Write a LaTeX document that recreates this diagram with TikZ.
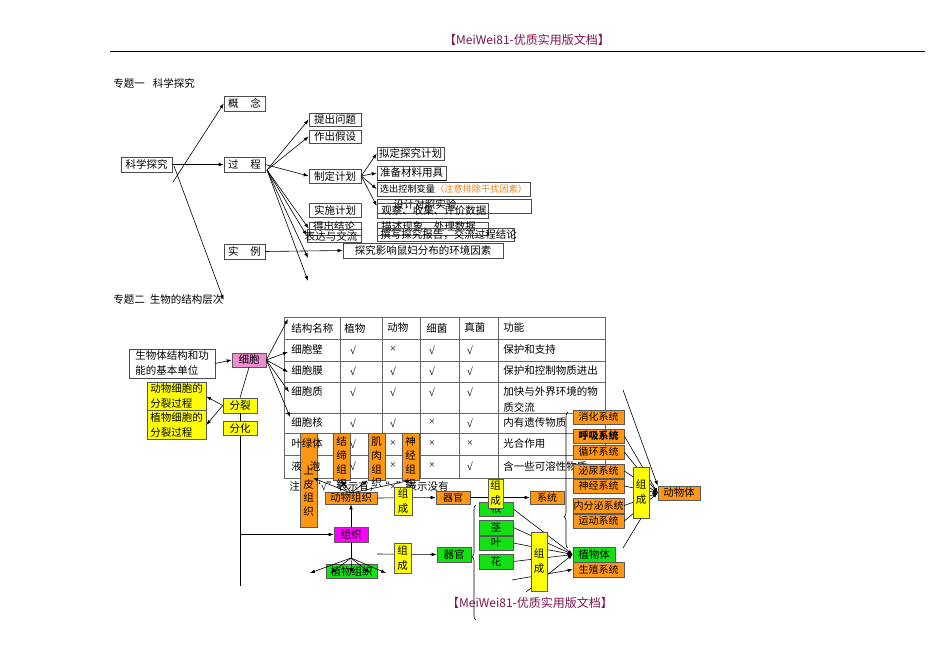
\documentclass[tikz,border=0pt]{standalone}
\usepackage{fontspec}
\setmainfont{Noto Sans CJK SC}
\newfontfamily\marksfont{Liberation Serif}
\usepackage{tikz}
\usetikzlibrary{positioning,arrows.meta,decorations.pathreplacing}

\definecolor{hdrpurple}{RGB}{128,20,80}
\definecolor{boxorange}{RGB}{255,150,20}
\definecolor{boxgreen}{RGB}{20,225,20}
\definecolor{boxyellow}{RGB}{255,255,0}
\definecolor{boxpink}{RGB}{240,140,210}
\definecolor{boxmagenta}{RGB}{255,0,255}
\definecolor{noteorange}{RGB}{235,130,30}

\newcommand{\yes}{{\marksfont\fontsize{11}{12}\selectfont √}}
\newcommand{\no}{{\marksfont\fontsize{11}{12}\selectfont ×}}

\begin{document}
\begin{tikzpicture}[x=1pt, y=-1pt, line width=0.6pt,
                >={Latex[length=5pt,width=3.6pt]},
                every node/.style={font=\fontsize{10.5}{12}\selectfont, inner sep=0pt},
                plainbox/.style={draw=black!70, fill=white, minimum height=14pt},
                openbox/.style={draw=black!70, minimum height=14pt},
                orangebox/.style={draw=black!65, fill=boxorange, minimum height=14pt, font=\fontsize{10}{12}\selectfont},
                greenbox/.style={draw=black!65, fill=boxgreen, minimum height=14pt},
                yellowbox/.style={draw=black!65, fill=boxyellow, align=center, font=\fontsize{10.5}{15}\selectfont},
                tissuebox/.style={draw=black!65, fill=boxorange, minimum width=17pt},
                vtext/.style={align=center, font=\fontsize{10.5}{13.7}\selectfont},
            ]
            \fill[white] (0,0) rectangle (950,671);
            \useasboundingbox (0,0) rectangle (950,671);

            % page header
            \node[font=\fontsize{12}{14}\selectfont, text=hdrpurple] (hdr) at (527,40) {【MeiWei81-优质实用版文档】};
            \draw[line width=0.9pt] (110,51) -- (925,51);

            % ---- topic one
            \node[anchor=west] (topic1) at (113,83) {专题一\hspace{8pt}科学探究};
            \node[plainbox, minimum width=51pt, minimum height=15pt] (kxtj) at (146.5,164.5) {科学探究};
            \node[plainbox, minimum width=41pt, minimum height=15pt] (gn)   at (244.5,103.5) {概\hspace{12pt}念};
            \node[plainbox, minimum width=41pt, minimum height=15pt] (gc)   at (244.5,164.5) {过\hspace{12pt}程};
            \node[plainbox, minimum width=41pt, minimum height=15pt] (sl)   at (244.5,251.5) {实\hspace{12pt}例};

            \node[plainbox, minimum width=52pt, minimum height=13pt] (tcwt) at (335,119.5) {提出问题};
            \node[plainbox, minimum width=52pt, minimum height=13pt] (zcjs) at (335,136.5) {作出假设};
            \node[plainbox, minimum width=52pt] (zdjh) at (335,176) {制定计划};
            \node[plainbox, minimum width=52pt] (ssjh) at (335,210) {实施计划};
            \node[openbox, minimum width=52pt, minimum height=13pt] (dcjl) at (335,228.5) {};
            \node (dcjlt) at (334,227) {得出结论};
            \node[openbox, minimum width=54pt, minimum height=13pt] (bdjl) at (334,235.5) {};
            \node (bdjlt) at (331,236) {表达与交流};

            \node[plainbox, minimum width=67pt, minimum height=13pt] (njtjh) at (410.5,153.5) {拟定探究计划};
            \node[plainbox, minimum width=69pt] (zbcl) at (411.5,173) {准备材料用具};
            \draw[line width=1.3pt] (zbcl.south west) -- (zbcl.south east);
            \node[plainbox, minimum width=153pt, font=\fontsize{9.2}{11}\selectfont] (xckz) at (453.5,189) {选出控制变量\textcolor{noteorange}{（注意排除干扰因素）}};
            \node[openbox, minimum width=154pt] (sjdz) at (454,206) {};
            \node[anchor=west] (sjdzt) at (393,204) {设计对照实验};
            \node[openbox, minimum width=111pt, minimum height=15pt] (gcsj) at (432.5,210.5) {};
            \node[anchor=west] (gcsjt) at (381,211) {观察、收集、评价数据};
            \node[openbox, minimum width=111pt, minimum height=13pt] (mszx) at (432.5,228.5) {};
            \node[anchor=west] (mszxt) at (381,227) {描述现象、处理数据};
            \node[openbox, minimum width=137pt, minimum height=13pt] (zxbg) at (445.5,234.5) {};
            \node[anchor=west] (zxbgt) at (380,235) {撰写探究报告，交流过程结论};
            \node[plainbox, minimum width=160pt, minimum height=15pt] (tjsf) at (423,250.5) {探究影响鼠妇分布的环境因素};

            \node[anchor=west] (topic2) at (113,300) {专题二\hspace{5pt}生物的结构层次};

            \coordinate (kxA) at (173,182);
            \coordinate (kxB) at (174,166);
            \draw[->] (kxA) -- (gn.west);
            \draw[->] (kxtj.east) -- (gc.west);
            \draw[->] (kxB) -- (topic2.east);

            \coordinate (gcA) at (267,170);
            \coordinate (gcB) at (308,258);
            \coordinate (gcC) at (308,281);
            \draw[->] (gcA) -- (tcwt.west);
            \draw[->] (gcA) -- (zcjs.west);
            \draw[->] (gc.east) -- (zdjh.west);
            \draw[->] (gcA) -- (dcjl.west);
            \draw[->] (gcA) -- (bdjl.west);
            \draw[->] (gcA) -- (gcB);
            \draw[->] (gcA) -- (gcC);
            \draw[->] (sl.east) -- (tjsf.west);

            \draw[->] (zdjh.east) -- (njtjh.west);
            \draw[->] (zdjh.east) -- (zbcl.west);
            \draw[->] (zdjh.east) -- (xckz.west);
            \draw[->] (zdjh.east) -- (sjdz.west);

            % ---- topic two: cell table
            \node[plainbox, minimum width=86pt, minimum height=29pt, align=left, font=\fontsize{10.5}{15}\selectfont] (jbdw) at (172,363.5) {生物体结构和功\\能的基本单位};
            \node[draw=black!65, fill=boxpink, minimum width=34pt, minimum height=14pt] (xb) at (249,360) {细胞};
            \draw[->] (jbdw.east) -- (xb.west);

            \draw[black!60] (284,317) rectangle (605,478);
            \foreach \ry in {339,361,382,413,433,455}
                \draw[black!60] (284,\ry) -- (605,\ry);
            \foreach \cx in {340,382,420,459,498}
                \draw[black!60] (\cx,317) -- (\cx,478);

            \node[anchor=west] (zhu) at (289,487) {注：“\yes”表示有，“\no”表示没有};

            % tissues laid over the table
            \node[tissuebox, minimum height=94pt] (spzz) at (308.5,480) {};
            \node[vtext] (spzzt) at (308.5,491) {上\\皮\\组\\织};
            \node[tissuebox, minimum height=47pt] (jdzz) at (341.5,456.5) {};
            \node[vtext] (jdzzt) at (341.5,462.5) {结\\缔\\组\\织};
            \node[tissuebox, minimum height=47pt] (jrzz) at (376.5,456.5) {};
            \node[vtext] (jrzzt) at (376.5,462.5) {肌\\肉\\组\\织};
            \node[tissuebox, minimum height=47pt] (sjzz) at (410.5,456.5) {};
            \node[vtext] (sjzzt) at (410.5,462.5) {神\\经\\组\\织};

            \node[anchor=west] (h0) at (291,328) {结构名称};
            \node[anchor=west] (h1) at (344,328) {植物};
            \node[anchor=west] (h2) at (387,328) {动物};
            \node[anchor=west] (h3) at (426,328) {细菌};
            \node[anchor=west] (h4) at (464,328) {真菌};
            \node[anchor=west] (h5) at (503,328) {功能};
            \foreach \ry/\cname/\cp/\ca/\cb/\cf/\cfn in {
                350/细胞壁/\yes/\no/\yes/\yes/保护和支持,
                371/细胞膜/\yes/\yes/\yes/\yes/保护和控制物质进出,
                392/细胞质/\yes/\yes/\yes/\yes/加快与外界环境的物,
                423/细胞核/\yes/\yes/\no/\yes/内有遗传物质,
                444/叶绿体/\yes/\no/\no/\no/光合作用,
                466/液\hspace{8pt}泡/\yes/\no/\no/\yes/含一些可溶性物质}{
                \node[anchor=west] (nm\ry) at (291,\ry) {\cname};
                \node (pl\ry) at (353,\ry) {\cp};
                \node (an\ry) at (393,\ry) {\ca};
                \node (ba\ry) at (432,\ry) {\cb};
                \node (fu\ry) at (470,\ry) {\cf};
                \node[anchor=west] (fn\ry) at (503,\ry) {\cfn};
            }
            \node[anchor=west] (fn407) at (503,407) {质交流};

            \coordinate (row0) at (288,319);
            \coordinate (row1) at (288,352);
            \coordinate (row2) at (288,372);
            \coordinate (row3) at (289,392);
            \coordinate (row4) at (290,417);
            \foreach \r in {row0,row1,row2,row3,row4}
                \draw[->] (xb.east) -- (\r);

            % division and differentiation
            \node[draw=black!65, fill=boxyellow, minimum width=59pt, minimum height=28pt, align=left, font=\fontsize{10.5}{15}\selectfont] (dwfl) at (176.5,396.5) {动物细胞的\\分裂过程};
            \node[draw=black!65, fill=boxyellow, minimum width=59pt, minimum height=29pt, align=left, font=\fontsize{10.5}{15}\selectfont] (zwfl) at (176.5,425) {植物细胞的\\分裂过程};
            \node[draw=black!65, fill=boxyellow, minimum width=34pt, minimum height=15pt] (fl) at (240,405.5) {分裂};
            \node[draw=black!65, fill=boxyellow, minimum width=34pt, minimum height=14pt] (fh) at (240,428.5) {分化};
            \draw[->] (fl.west) -- (dwfl.east);
            \draw[->] (fl.west) -- (zwfl.east);

            \coordinate (xbLow) at (240,586);
            \coordinate (xbMid) at (240,534.5);
            \draw (xb.south) -- (fl.north);
            \draw (fl.south) -- (fh.north);
            \draw (fh.south) -- (xbLow);

            % tissues, organs, systems
            \node[draw=black!65, fill=boxorange, minimum width=52pt, minimum height=12pt] (dwzz) at (351,498) {动物组织};
            \node[draw=black!65, fill=boxmagenta, minimum width=34pt, minimum height=15pt] (zz) at (351,534.5) {组织};
            \draw[->] (xbMid) -- (zz.west);
            \draw[->] (zz.north) -- (dwzz.south);
            \coordinate (dwA) at (351,493);
            \coordinate (spTip) at (313,478);
            \draw[->] (dwA) -- (spTip);
            \draw[->] (dwA) -- (jdzz.south);
            \draw[->] (dwA) -- (jrzz.south west);
            \draw[->] (dwA) -- (sjzz.south);

            \node[greenbox, minimum width=51pt] (zwzz) at (351.5,571) {植物组织};
            \coordinate (zzB) at (351,558);
            \draw (zz.south) -- (zzB);
            \foreach \tx [count=\i] in {310,331,352,370,386}{
                \coordinate (zwtip\i) at (\tx,573);
                \draw[->] (zzB) -- (zwtip\i);
            }

            \node[orangebox, minimum width=34pt, minimum height=13pt] (qg1) at (453,497.5) {器官};
            \draw[->] (dwzz.east) -- (qg1.west);
            \node[yellowbox, minimum width=18pt, minimum height=28pt] (zc1) at (403,501) {组\\成};
            \node[greenbox, minimum width=34pt, minimum height=15pt] (qg2) at (454,554.5) {器官};
            \coordinate (zcS) at (377,554);
            \draw[->] (zcS) -- (qg2.west);
            \node[yellowbox, minimum width=17pt, minimum height=30pt] (zc2) at (402.5,558) {组\\成};

            \node[orangebox, minimum width=34pt, minimum height=13pt] (xt) at (547,497.5) {系统};
            \draw[->] (qg1.east) -- (xt.west);

            \node[greenbox, minimum width=34pt] (gen)  at (496,509) {根};
            \node[greenbox, minimum width=34pt, minimum height=15pt] (jing) at (496,527.5) {茎};
            \node[greenbox, minimum width=34pt] (ye)   at (496,543) {叶};
            \node[greenbox, minimum width=34pt, minimum height=15pt] (hua)  at (496,561.5) {花};
            \node[yellowbox, minimum width=15pt, minimum height=29pt] (zc3) at (495.5,493.5) {组\\成};
            \coordinate (brA) at (476,620);
            \coordinate (brB) at (476,505);
            \draw[decorate, decoration={brace, amplitude=4pt, aspect=0.55}] (brA) -- (brB);

            \node[greenbox, minimum width=42pt, minimum height=15pt] (zwt) at (594,554.5) {植物体};
            \node[orangebox, minimum width=51pt, minimum height=15pt] (szxt) at (598.5,569.5) {生殖系统};
            \coordinate (lowA) at (512,580);
            \coordinate (lowB) at (526,592);
            \foreach \o in {gen,jing,ye,hua}
                \draw[->] (\o.east) -- (zwt.west);
            \draw[->] (lowA) -- (szxt.west);
            \draw[->] (lowB) -- (zwt.west);
            \node[yellowbox, minimum width=16pt, minimum height=59pt] (zc4) at (539,561.5) {组\\成};

            \node[orangebox, minimum width=51pt] (xh)  at (598.5,417) {消化系统};
            \node[orangebox, minimum width=51pt, font=\fontsize{10}{12}\selectfont\bfseries] (hx) at (598.5,436) {呼吸系统};
            \node[orangebox, minimum width=51pt] (xhu) at (598.5,452) {循环系统};
            \node[orangebox, minimum width=51pt] (mn)  at (598.5,471) {泌尿系统};
            \node[orangebox, minimum width=51pt] (sj)  at (598.5,486) {神经系统};
            \node[orangebox, minimum width=51pt, minimum height=15pt] (nfm) at (598.5,505.5) {内分泌系统};
            \node[orangebox, minimum width=51pt] (yd)  at (598.5,521) {运动系统};
            \coordinate (brC) at (568,548);
            \coordinate (brD) at (568,412);
            \draw[decorate, decoration={brace, amplitude=4pt, aspect=0.23}] (brC) -- (brD);

            \node[orangebox, minimum width=42pt, font=\fontsize{10.5}{12}\selectfont] (dwt) at (679,493) {动物体};
            \foreach \s in {hx,xhu,mn,sj,nfm,yd}
                \draw[->] (\s.east) -- (dwt.west);
            \coordinate (longA) at (623,390);
            \draw[->] (longA) -- (dwt.north west);
            \node[yellowbox, minimum width=16pt, minimum height=51pt] (zc5) at (641,492.5) {组\\成};
            \coordinate (zcLow) at (623,548);
            \draw (zc5.south) -- (zcLow);

            % page footer
            \node[font=\fontsize{12}{14}\selectfont, text=hdrpurple] (ftr) at (530,603) {【MeiWei81-优质实用版文档】};
        \end{tikzpicture}
\end{document}
